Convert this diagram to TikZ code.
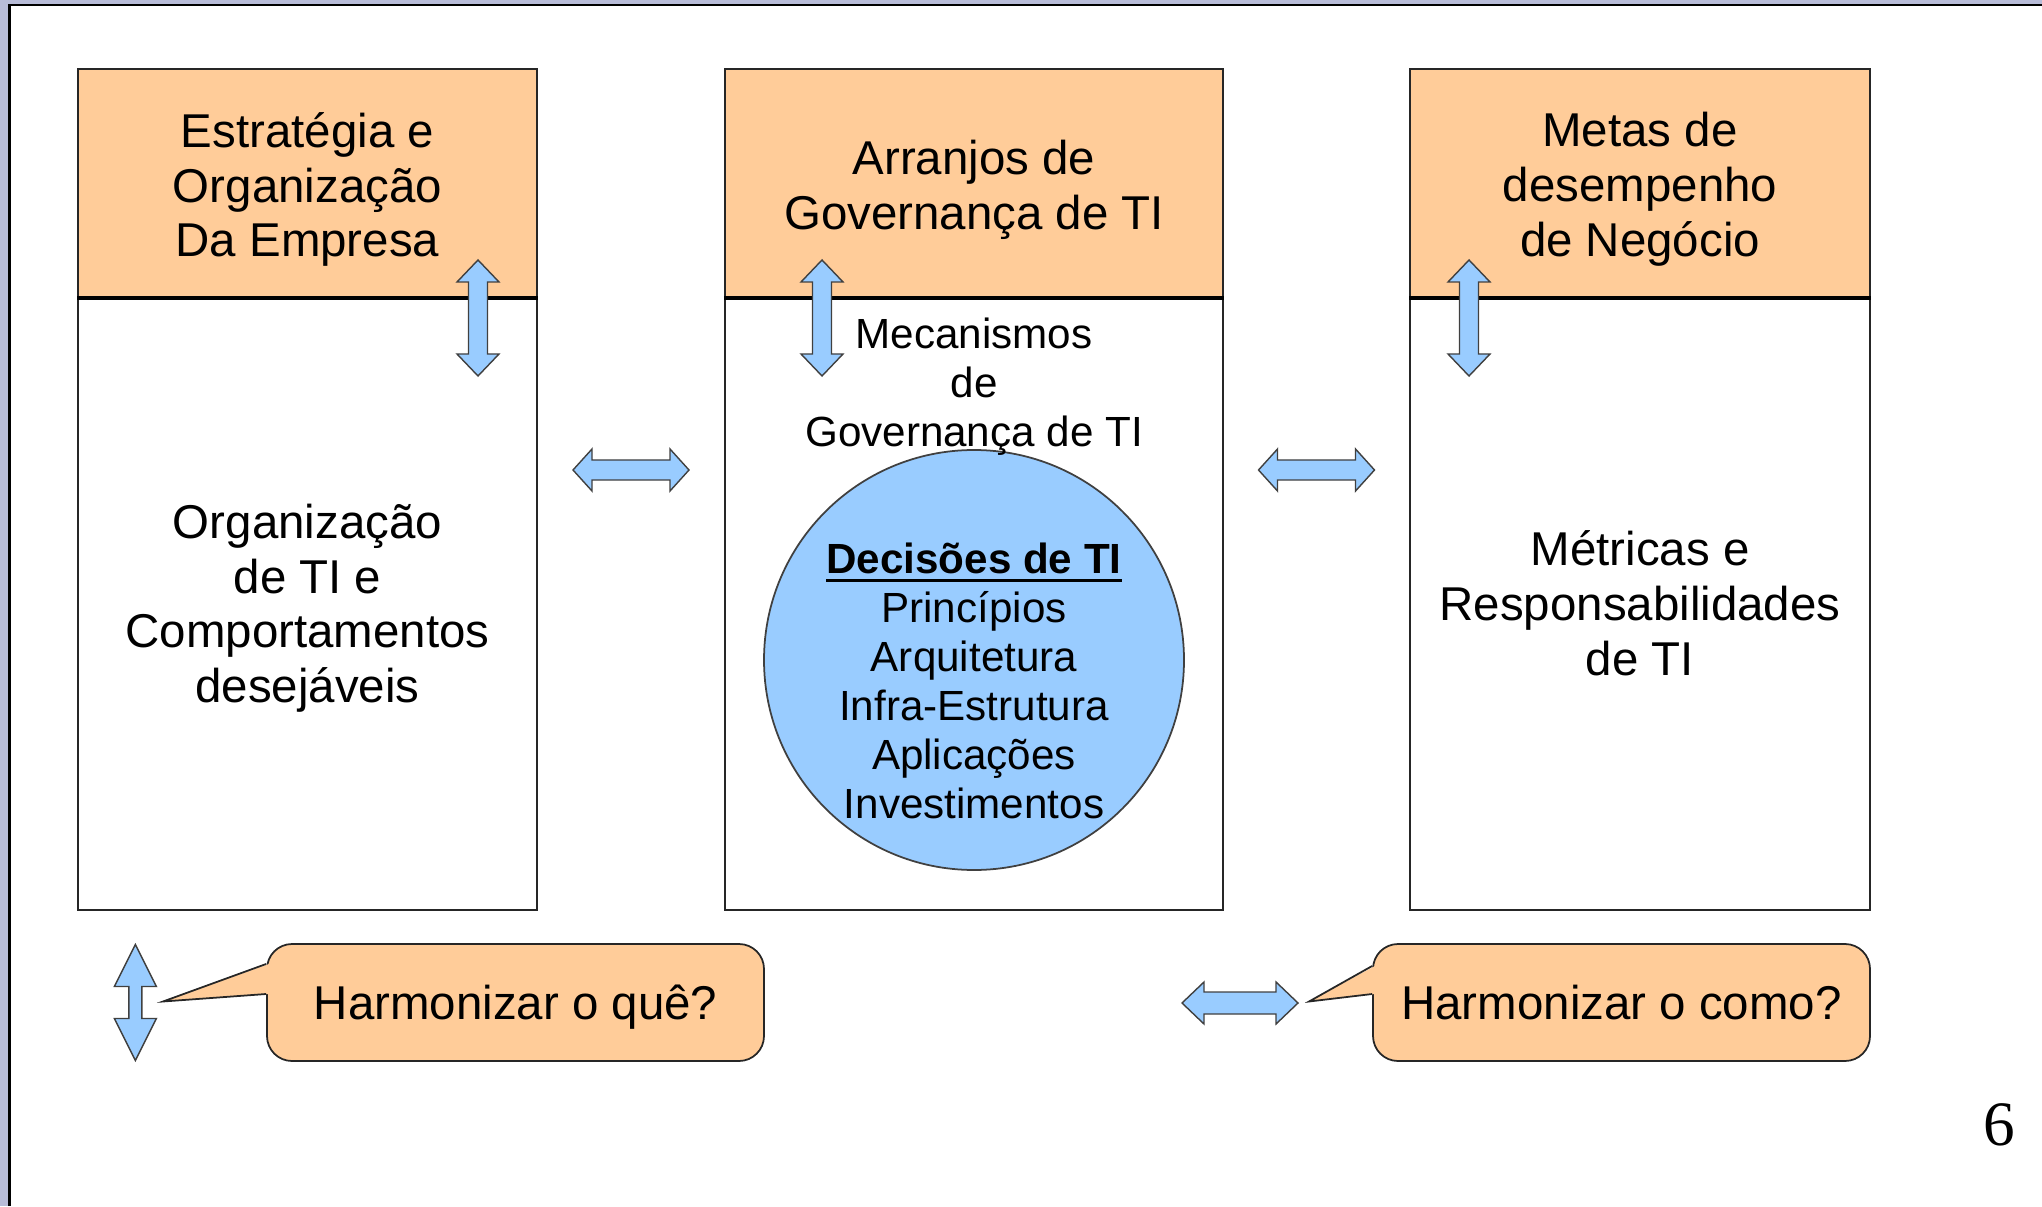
\documentclass[tikz,border=0pt]{standalone}
\usepackage{fontspec}
\setmainfont{Liberation Sans}
\newfontfamily\pagenumfont{Liberation Serif}
\usetikzlibrary{positioning}

\definecolor{headorange}{HTML}{FFCC99}
\definecolor{decblue}{HTML}{99CCFF}
\definecolor{framelav}{HTML}{B8BCD8}

\newsavebox{\ulbox}
\newcommand{\thickul}[1]{\sbox{\ulbox}{#1}\rlap{\rule[-2.4pt]{\wd\ulbox}{1.1pt}}\usebox{\ulbox}}

\begin{document}
\begin{tikzpicture}
\tikzset{head/.style={rectangle,draw=black!85,line width=0.5pt,fill=headorange,
    minimum height=2.28cm,inner sep=0pt}}
\tikzset{body/.style={rectangle,draw=black!85,line width=0.5pt,
    minimum height=6.11cm,inner sep=0pt}}
\tikzset{big/.style={align=center,inner sep=0pt,font=\fontsize{13.5}{15.6}\selectfont},
  small/.style={align=center,inner sep=0pt,font=\fontsize{12}{13.9}\selectfont},
  callout/.style={rectangle,rounded corners=0.25cm,draw=black!85,line width=0.5pt,fill=headorange,
    minimum width=4.97cm,minimum height=1.17cm,text height=9.7pt,text depth=0pt,
    font=\fontsize{13.5}{15.6}\selectfont},
  arr/.style={draw=black!75,line width=0.4pt,fill=decblue},
  pics/dblarrow/.style 2 args={code={
    \draw[arr] (0,0.58) -- (0.21,0.58-#1) -- (#2,0.58-#1) -- (#2,-0.58+#1) -- (0.21,-0.58+#1)
      -- (0,-0.58) -- (-0.21,-0.58+#1) -- (-#2,-0.58+#1) -- (-#2,0.58-#1) -- (-0.21,0.58-#1) -- cycle;
  }}}

\useasboundingbox (0,0) rectangle (20.42,12.06);

% frame of the slide
\fill[framelav] (0,12.02) rectangle (20.42,12.06);
\fill[framelav] (0,0) rectangle (0.08,12.06);
\draw[line width=0.7pt] (0.095,0) -- (0.095,12.01) -- (20.42,12.01);

% the three columns
\node[head,minimum width=4.59cm] (lhead) at (3.075,10.23) {};
\node[body,minimum width=4.59cm,below=0pt of lhead] (lbody) {};
\node[head,minimum width=4.98cm] (mhead) at (9.74,10.23) {};
\node[body,minimum width=4.98cm,below=0pt of mhead] (mbody) {};
\node[head,minimum width=4.60cm] (rhead) at (16.40,10.23) {};
\node[body,minimum width=4.60cm,below=0pt of rhead] (rbody) {};

\foreach \c in {lhead,mhead,rhead} {
    \draw[line width=1.2pt] (\c.south west) -- (\c.south east);
}

\node[big] (lheadtxt) at ([yshift=-0.065cm]lhead.center) {Estratégia e\\Organização\\Da Empresa};
\node[big] (mheadtxt) at ([yshift=-0.065cm]mhead.center) {Arranjos de\\Governança de TI};
\node[big] (rheadtxt) at ([yshift=-0.065cm]rhead.center) {Metas de\\desempenho\\de Negócio};
\node[big] (lbodytxt) at ([yshift=-0.04cm]lbody.center) {Organização\\de TI e\\Comportamentos\\desejáveis};
\node[big] (rbodytxt) at ([yshift=0.01cm]rbody.center) {Métricas e\\Responsabilidades\\de TI};

\node[circle,draw=black!75,line width=0.5pt,fill=decblue,minimum size=4.2cm,inner sep=0pt] (dec) at (9.74,5.46) {};
\node[small] (dectxt) at (9.74,5.25) {\textbf{\thickul{Decisões de TI}}\\Princípios\\Arquitetura\\Infra-Estrutura\\Aplicações\\Investimentos};
\node[small] (mech) at (9.74,8.19) {Mecanismos\\de\\Governança de TI};

% double arrows
\foreach \x in {4.78,8.22,14.69} {
    \pic at (\x,8.88) {dblarrow={0.22}{0.095}};
}
\pic[rotate=90] at (6.31,7.36) {dblarrow={0.19}{0.1}};
\pic[rotate=90] at (13.165,7.36) {dblarrow={0.19}{0.1}};
\pic at (1.354,2.035) {dblarrow={0.42}{0.065}};
\pic[rotate=90] at (12.40,2.03) {dblarrow={0.22}{0.11}};

% callouts
\node[callout] (qcall) at (5.155,2.035) {Harmonizar o quê?};
\node[callout] (ccall) at (16.215,2.035) {Harmonizar o como?};
\coordinate (qtip) at (1.63,2.045);
\coordinate (ctip) at (13.09,2.045);
\foreach \t/\c/\u in {qtip/qcall/3.85mm,ctip/ccall/3.65mm} {
    \fill[headorange] (\t) -- ([xshift=0.8pt,yshift=\u]\c.west) -- ([xshift=0.8pt,yshift=0.85mm]\c.west) -- cycle;
    \draw[black!85,line width=0.5pt] ([yshift=\u]\c.west) -- (\t) -- ([yshift=0.85mm]\c.west);
}

\node[font=\pagenumfont\fontsize{18}{20}\selectfont,inner sep=0pt] (pgno) at (19.99,0.81) {6};
\end{tikzpicture}
\end{document}
